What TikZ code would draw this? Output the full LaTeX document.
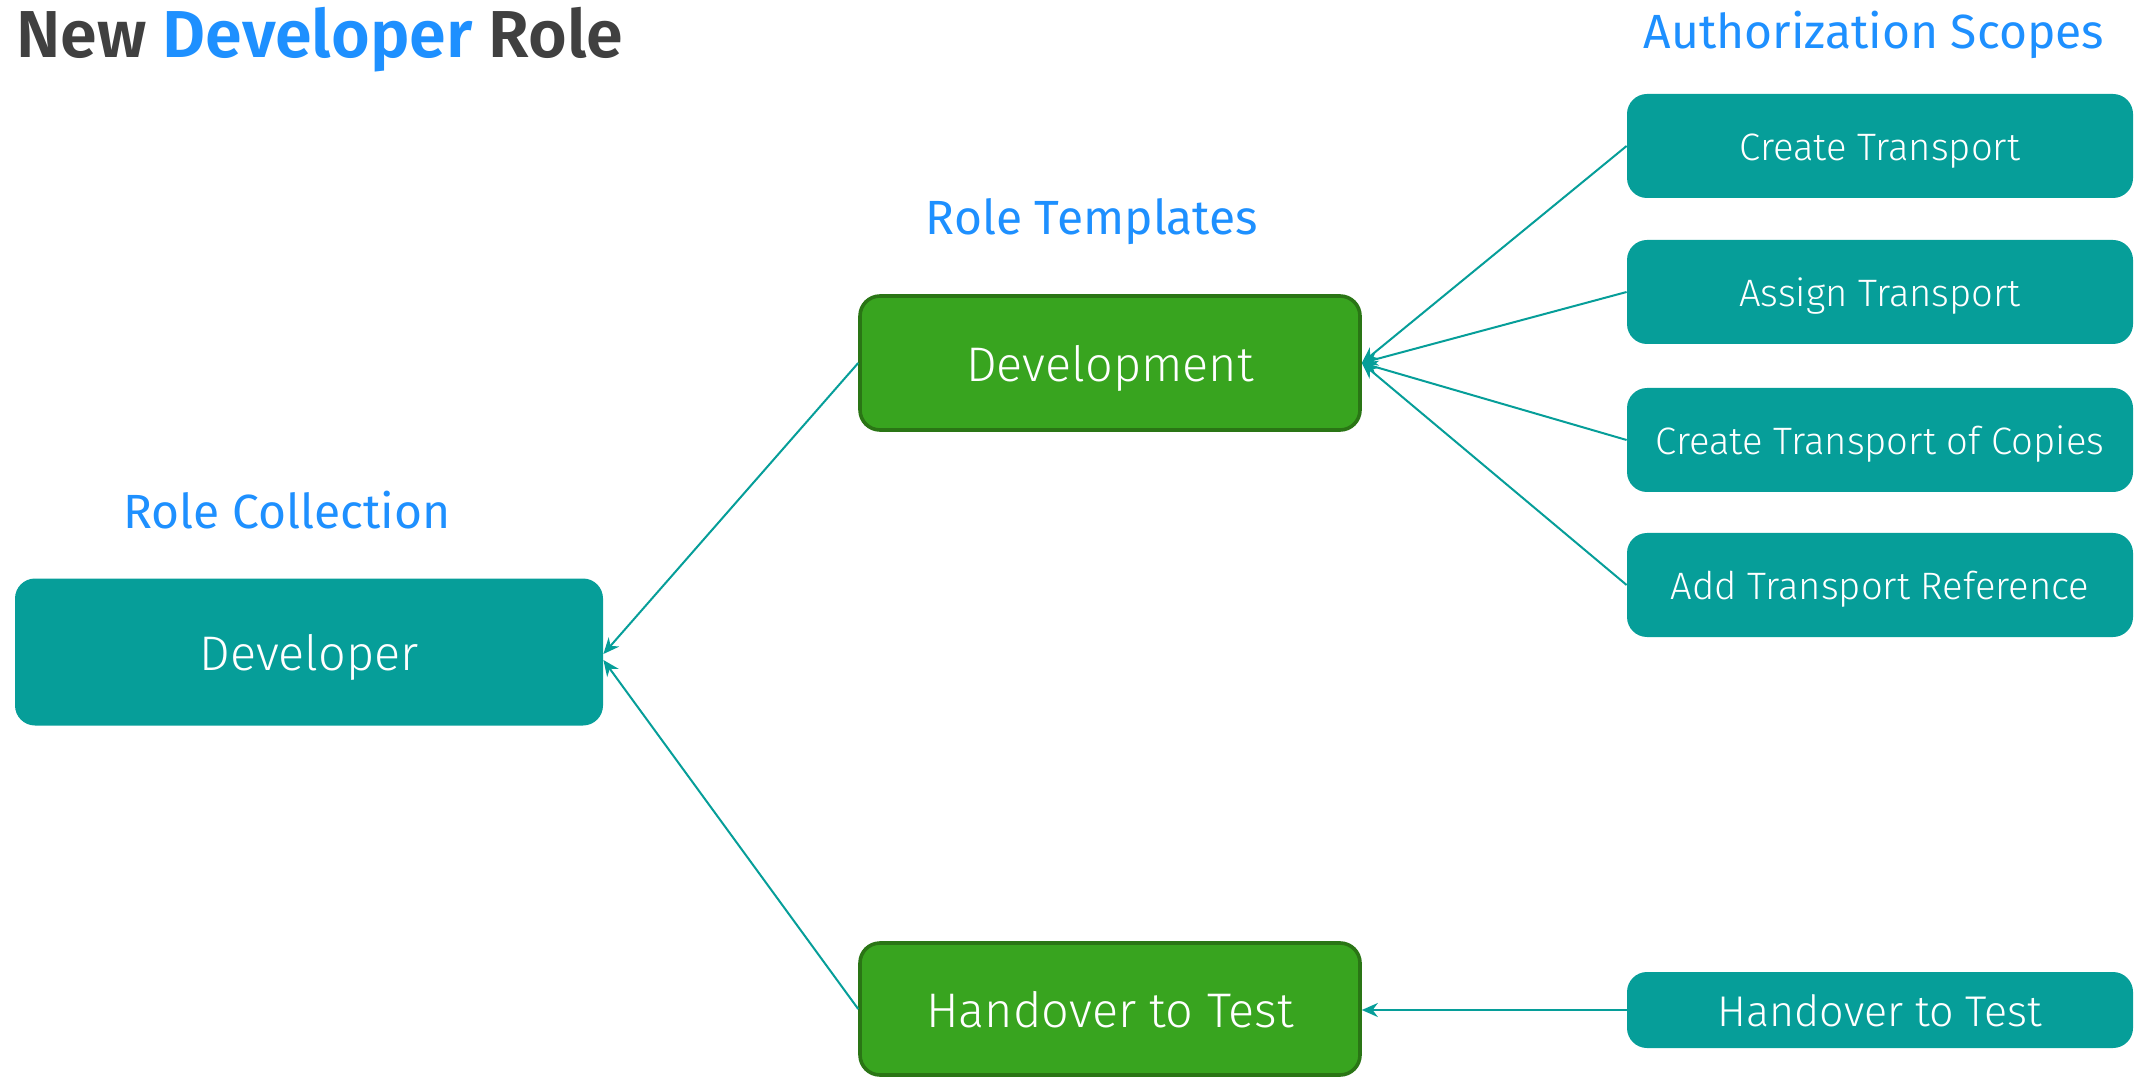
\documentclass[tikz,border=0pt]{standalone}
\usepackage{fontspec}
\setmainfont{Fira Sans}
\newfontfamily\titlefont{Fira Sans SemiBold}
\newfontfamily\lightfont{Fira Sans Light}
\usetikzlibrary{arrows.meta}
\definecolor{teal1}{RGB}{6,158,153}
\definecolor{green1}{RGB}{56,164,31}
\definecolor{green2}{RGB}{42,117,21}
\definecolor{blue1}{RGB}{30,144,255}
\definecolor{grey1}{RGB}{64,64,64}
\tikzset{
  tealbox/.style={fill=teal1,draw=none,rounded corners=10pt,text=white,inner sep=0pt},
  greenbox/.style={fill=green1,draw=green2,line width=1.8pt,rounded corners=10pt,text=white,inner sep=0pt},
  bigtext/.style={font=\lightfont\fontsize{24.3pt}{28pt}\selectfont,text height=21.9pt,text depth=3.6pt},
  scopetext/.style={font=\lightfont\fontsize{19.1pt}{22pt}\selectfont,text height=17.2pt,text depth=2.9pt},
  heading/.style={text=blue1,font=\fontsize{24pt}{28pt}\selectfont,inner sep=0pt},
  conn/.style={draw=teal1,line width=1pt,-{Stealth[length=8pt,width=7pt]}},
}
\begin{document}
\begin{tikzpicture}[x=0.5pt,y=-0.5pt]
\useasboundingbox (0,0) rectangle (2135,1079);
% title
\node[anchor=base west,inner sep=0pt,font=\titlefont\fontsize{33.2pt}{38pt}\selectfont,text=grey1] (title) at (16,58) {New \textcolor{blue1}{Developer} Role};
% headings
\node[heading] (hcol) at (287,510) {Role Collection};
\node[heading] (htpl) at (1092,222) {Role Templates};
\node[heading] (hscope) at (1874,35) {Authorization Scopes};
% main boxes
\node[tealbox,bigtext,minimum width=294pt,minimum height=73.5pt] (dev) at (309,652) {Developer};
\node[greenbox,bigtext,minimum width=250pt,minimum height=67pt] (devt) at (1110,363) {Development};
\node[greenbox,bigtext,minimum width=250pt,minimum height=66pt] (hand) at (1110,1009) {Handover to Test};
% scope boxes
\tikzset{scope/.style={tealbox,scopetext,minimum width=253pt,minimum height=52pt}}
\node[scope] (s1) at (1880,146) {Create Transport};
\node[scope] (s2) at (1880,292) {Assign Transport};
\node[scope] (s3) at (1880,440) {Create Transport of Copies};
\node[scope] (s4) at (1880,585) {Add Transport Reference};
\node[scope,minimum height=38pt,font=\lightfont\fontsize{21.5pt}{24pt}\selectfont,text height=19.4pt,text depth=3.2pt] (s5) at (1880,1010) {Handover to Test};
% connectors
\draw[conn] (s1.west) -- (devt.east);
\draw[conn] (s2.west) -- (devt.east);
\draw[conn] (s3.west) -- (devt.east);
\draw[conn] (s4.west) -- (devt.east);
\draw[conn] (s5.west) -- (hand.east |- s5.west);
\draw[conn] (devt.west) -- ([yshift=-1pt]dev.east);
\draw[conn] (hand.west) -- ([yshift=-4pt]dev.east);
\end{tikzpicture}
\end{document}
